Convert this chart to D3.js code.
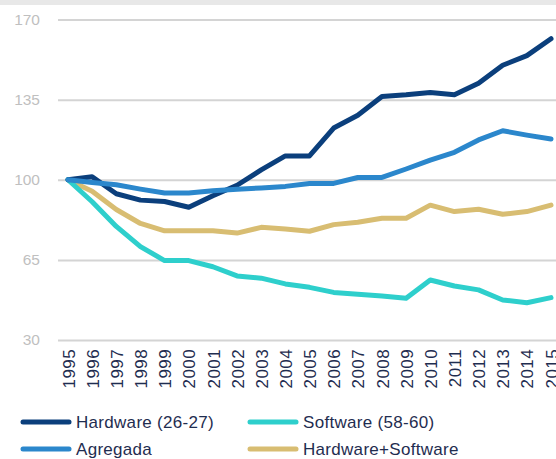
<!DOCTYPE html>
<html>
<head>
<meta charset="utf-8">
<script src="https://cdn.jsdelivr.net/npm/d3@7"></script>
<style>
  body { margin: 0; background: #fff; }
  svg { display: block; font-family: "Liberation Sans", Arial, sans-serif; }
</style>
</head>
<body>
<svg id="chart" width="556" height="459"></svg>
<script>
// datos
var years = d3.range(1995, 2016);
var yTicks = [30, 65, 100, 135, 170];
var hardware = [100, 101.3, 93.9, 91.1, 90.5, 88.0, 93.0, 97.6, 104.3, 110.4, 110.4, 122.6, 128.2, 136.4, 137.1, 138.1, 137.1, 142.2, 150.0, 154.2, 161.6];
var software = [100, 90.4, 79.6, 70.8, 64.7, 64.7, 62.0, 58.0, 57.0, 54.5, 53.0, 50.8, 50.0, 49.2, 48.2, 56.2, 53.6, 51.9, 47.5, 46.3, 48.5];
var agregada = [100, 98.8, 97.8, 95.9, 94.2, 94.2, 95.2, 95.9, 96.4, 97.1, 98.4, 98.4, 101.0, 101.0, 104.7, 108.6, 112.0, 117.4, 121.4, 119.5, 117.8];
var hwsw = [100, 95.0, 87.0, 80.9, 77.7, 77.7, 77.7, 76.7, 79.2, 78.5, 77.5, 80.4, 81.4, 83.2, 83.2, 88.9, 86.1, 87.1, 84.9, 86.1, 88.9];

var series = [
  { name: "Hardware (26-27)", values: hardware, color: "#0b3f7c" },
  { name: "Software (58-60)", values: software, color: "#2ecfcc" },
  { name: "Agregada", values: agregada, color: "#2b87cc" },
  { name: "Hardware+Software", values: hwsw, color: "#d8bd72" }
];
// orden de dibujo (la última encima)
var drawOrder = [3, 1, 0, 2];

var svg = d3.select("#chart");

// franja gris superior
svg.append("rect")
  .attr("x", 0).attr("y", 0)
  .attr("width", 556).attr("height", 5)
  .attr("fill", "#e8e8e8");

var x = d3.scaleLinear().domain([1995, 2015]).range([68, 551]);
var y = d3.scaleLinear().domain([30, 170]).range([340, 19.5]);

// rejilla + etiquetas eje Y
var yAxis = svg.append("g")
  .attr("transform", "translate(58,0)")
  .call(d3.axisLeft(y).tickValues(yTicks).tickSize(-498).tickPadding(18).tickFormat(d3.format("d")));
yAxis.select(".domain").remove();
yAxis.selectAll(".tick line")
  .attr("stroke", "#d4d4d4")
  .attr("stroke-width", 2);
yAxis.selectAll(".tick text")
  .attr("fill", "#bfbfbf")
  .style("font-size", "15.5px");

// etiquetas eje X (verticales)
var xAxis = svg.append("g")
  .attr("transform", "translate(0,349)")
  .call(d3.axisBottom(x).tickValues(years).tickSize(0).tickPadding(0).tickFormat(d3.format("d")));
xAxis.select(".domain").remove();
xAxis.selectAll(".tick text")
  .attr("fill", "#1f2d50")
  .attr("transform", "rotate(-90)")
  .attr("text-anchor", "end")
  .attr("x", 0)
  .attr("y", 0)
  .attr("dy", "0.36em")
  .style("font-size", "17px")
  .style("letter-spacing", "0.4px");

// líneas
var line = d3.line()
  .x(function(d, i) { return x(years[i]); })
  .y(function(d) { return y(d); });

svg.append("g")
  .selectAll("path")
  .data(drawOrder.map(function(i) { return series[i]; }))
  .enter()
  .append("path")
  .attr("d", function(d) { return line(d.values); })
  .attr("fill", "none")
  .attr("stroke", function(d) { return d.color; })
  .attr("stroke-width", 5)
  .attr("stroke-linejoin", "round")
  .attr("stroke-linecap", "round");

// leyenda
var legend = svg.append("g")
  .selectAll("g")
  .data(series)
  .enter()
  .append("g")
  .attr("transform", function(d, i) {
    return "translate(" + (i % 2 === 0 ? 23 : 250) + "," + (i < 2 ? 422 : 449) + ")";
  });

legend.append("line")
  .attr("x1", 0).attr("x2", 46)
  .attr("y1", 0).attr("y2", 0)
  .attr("stroke", function(d) { return d.color; })
  .attr("stroke-width", 5)
  .attr("stroke-linecap", "round");

legend.append("text")
  .attr("x", 53)
  .attr("y", 0)
  .attr("dy", "0.36em")
  .attr("fill", "#1f2d50")
  .style("font-size", "17px")
  .style("letter-spacing", "0.3px")
  .text(function(d) { return d.name; });
</script>
</body>
</html>
